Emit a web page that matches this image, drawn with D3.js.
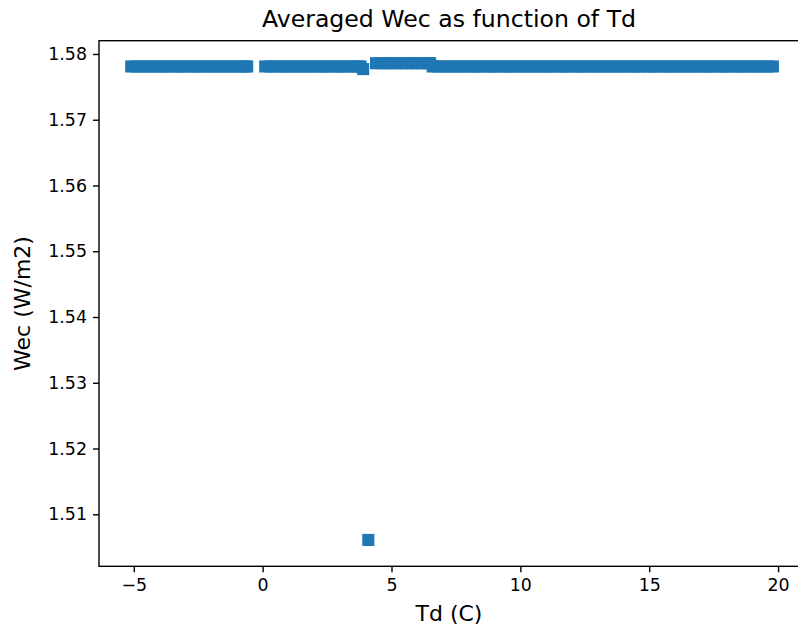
<!DOCTYPE html>
<html>
<head>
<meta charset="utf-8">
<script src="https://cdn.jsdelivr.net/npm/d3@7"></script>
<style>
  body { margin: 0; background: #fff; }
  svg { display: block; font-family: "DejaVu Sans", sans-serif; }
</style>
</head>
<body>
<svg id="chart" width="798" height="633"></svg>
<script>
// Td (C) positions, grouped by Wec level
var tdLeft = [-5.1, -4.9, -4.7, -4.5, -4.3, -4.1, -3.9, -3.7, -3.5, -3.3, -3.1, -2.9,
              -2.7, -2.5, -2.3, -2.1, -1.9, -1.7, -1.5, -1.3, -1.1, -0.9, -0.7, -0.6];
var tdMid = [0.1, 0.3, 0.5, 0.7, 0.9, 1.1, 1.3, 1.5, 1.7, 1.9, 2.1, 2.3, 2.5, 2.7,
             2.9, 3.1, 3.3, 3.5, 3.7, 3.8];
var tdRight = [6.6, 6.8, 7.0, 7.2, 7.4, 7.6, 7.8, 8.0, 8.2, 8.4, 8.6, 8.8, 9.0, 9.2,
               9.4, 9.6, 9.8, 10.0, 10.2, 10.4, 10.6, 10.8, 11.0, 11.2, 11.4, 11.6,
               11.8, 12.0, 12.2, 12.4, 12.6, 12.8, 13.0, 13.2, 13.4, 13.6, 13.8, 14.0,
               14.2, 14.4, 14.6, 14.8, 15.0, 15.2, 15.4, 15.6, 15.8, 16.0, 16.2, 16.4,
               16.6, 16.8, 17.0, 17.2, 17.4, 17.6, 17.8, 18.0, 18.2, 18.4, 18.6, 18.8,
               19.0, 19.2, 19.4, 19.6, 19.8];
var wecLevel = 1.5781;

var tdBump = [4.4, 4.6, 4.8, 5.0, 5.2, 5.4, 5.6, 5.8, 6.0, 6.2, 6.4, 6.5];
var wecBump = 1.5786;

var tdDip = [3.9];
var wecDip = [1.5777];

var tdOutlier = [4.1];
var wecOutlier = [1.5061];

var xTicks = [-5, 0, 5, 10, 15, 20];
var yTicks = [1.51, 1.52, 1.53, 1.54, 1.55, 1.56, 1.57, 1.58];

(function() {
    // build point list
    var points = [];
    tdLeft.concat(tdMid, tdRight).forEach(function(t) { points.push([t, wecLevel]); });
    tdBump.forEach(function(t) { points.push([t, wecBump]); });
    tdDip.forEach(function(t, i) { points.push([t, wecDip[i]]); });
    tdOutlier.forEach(function(t, i) { points.push([t, wecOutlier[i]]); });

    var svg = d3.select('#chart');
    var plotL = 99, plotR = 807.7, plotT = 40.7, plotB = 566.3;

    var x = d3.scaleLinear().domain([-6.35, 21.15]).range([plotL, plotR]);
    var y = d3.scaleLinear().domain([1.50209, 1.58202]).range([plotB, plotT]);

    var color = '#1f77b4';
    var ms = 10.4;

    svg.append('g').selectAll('rect')
        .data(points)
        .enter().append('rect')
        .attr('x', function(d) { return x(d[0]) - ms / 2; })
        .attr('y', function(d) { return y(d[1]) - ms / 2; })
        .attr('width', ms).attr('height', ms)
        .attr('fill', color)
        .attr('stroke', color)
        .attr('stroke-width', 1.7);

    // spines
    svg.append('rect')
        .attr('x', plotL).attr('y', plotT)
        .attr('width', plotR - plotL).attr('height', plotB - plotT)
        .attr('fill', 'none').attr('stroke', '#000').attr('stroke-width', 1.4);

    var xAxis = svg.append('g')
        .attr('transform', 'translate(0,' + plotB + ')')
        .call(d3.axisBottom(x).tickValues(xTicks).tickSize(6).tickPadding(6));
    var yAxis = svg.append('g')
        .attr('transform', 'translate(' + plotL + ',0)')
        .call(d3.axisLeft(y).tickValues(yTicks).tickFormat(d3.format('.2f')).tickSize(6).tickPadding(6));

    [xAxis, yAxis].forEach(function(ax) {
        ax.select('.domain').remove();
        ax.selectAll('line').attr('stroke', '#000').attr('stroke-width', 1.4);
        ax.selectAll('text').attr('fill', '#000')
          .style('font-size', '17.4px').style('font-family', '"DejaVu Sans", sans-serif');
    });

    svg.append('text')
        .attr('x', 449).attr('y', 27)
        .attr('text-anchor', 'middle')
        .style('font-size', '23.6px')
        .text('Averaged Wec as function of Td');

    svg.append('text')
        .attr('x', 449).attr('y', 621)
        .attr('text-anchor', 'middle')
        .style('font-size', '22px')
        .text('Td (C)');

    svg.append('text')
        .attr('transform', 'translate(30,' + ((plotT + plotB) / 2) + ') rotate(-90)')
        .attr('text-anchor', 'middle')
        .style('font-size', '22px')
        .text('Wec (W/m2)');
})();
</script>
</body>
</html>
